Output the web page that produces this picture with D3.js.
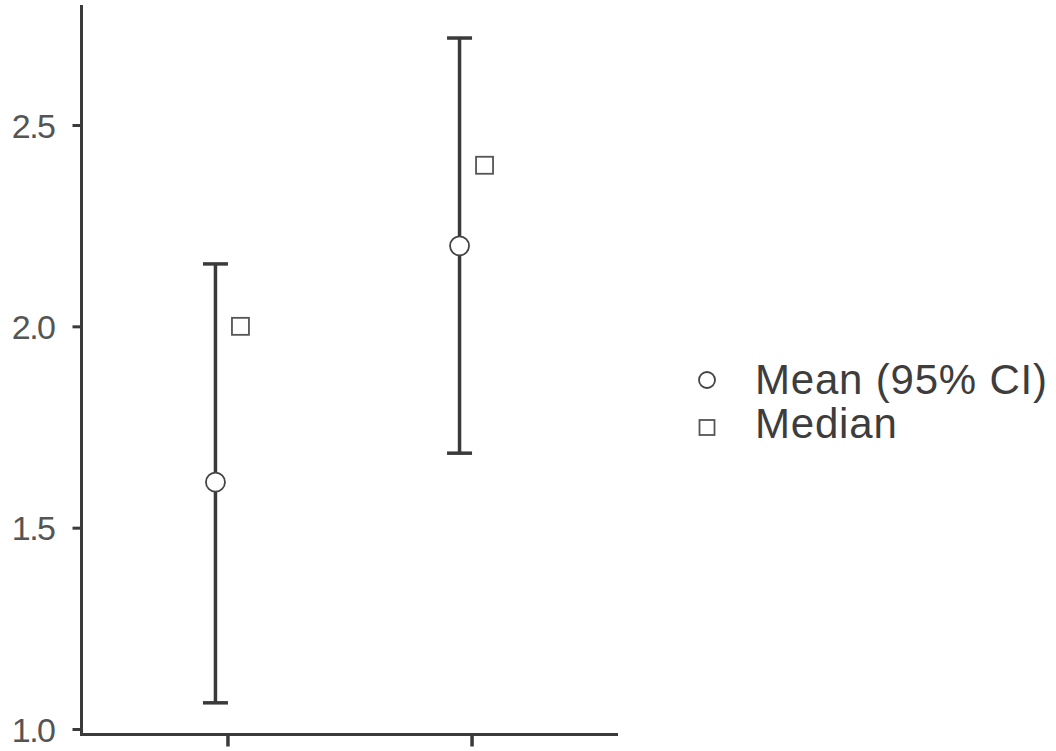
<!DOCTYPE html>
<html>
<head>
<meta charset="utf-8">
<script src="https://cdn.jsdelivr.net/npm/d3@7"></script>
<style>
  html, body { margin: 0; padding: 0; background: #fff; }
  svg { display: block; }
  text { font-family: "Liberation Sans", Arial, sans-serif; }
</style>
</head>
<body>
<svg id="chart" width="1056" height="751"></svg>
<script>
// Groups and their summary statistics
const groups = ["A", "B"];
const means = [1.613, 2.2];
const lowerCI = [1.065, 1.685];
const upperCI = [2.155, 2.716];
const medians = [2.0, 2.4];
const yTicks = [1.0, 1.5, 2.0, 2.5];
const legendLabels = ["Mean (95% CI)", "Median"];

const svg = d3.select("#chart");

const y = d3.scaleLinear().domain([1.0, 2.5]).range([729, 125]);
const x = d3.scalePoint().domain(groups).range([81, 618]).padding(0.6);

const axisColor = "#3a3a3a";
const textColor = "#555";

// y axis
const yAxisG = svg.append("g").attr("transform", "translate(81.5,0)");
yAxisG.call(d3.axisLeft(y).tickValues(yTicks).tickFormat(d3.format(".1f")).tickSize(9).tickPadding(18));
yAxisG.select(".domain").remove();
yAxisG.append("line")
  .attr("x1", 0).attr("x2", 0)
  .attr("y1", 5).attr("y2", 735)
  .attr("stroke", axisColor).attr("stroke-width", 3);
yAxisG.selectAll(".tick line").attr("stroke", axisColor).attr("stroke-width", 3);
yAxisG.selectAll(".tick text")
  .attr("fill", textColor)
  .attr("font-size", 34)
  .attr("letter-spacing", -1.5)
  .attr("dy", "0.36em");

// x axis
const xAxisG = svg.append("g").attr("transform", "translate(0,734.5)");
xAxisG.call(d3.axisBottom(x).tickSize(12).tickFormat(""));
xAxisG.select(".domain").remove();
xAxisG.append("line")
  .attr("x1", 80).attr("x2", 618)
  .attr("y1", 0).attr("y2", 0)
  .attr("stroke", axisColor).attr("stroke-width", 3);
xAxisG.selectAll(".tick line").attr("stroke", axisColor).attr("stroke-width", 3.5);

const meanOffset = -12, medianOffset = 13, capHalf = 12.5;

const g = svg.append("g");
groups.forEach((grp, i) => {
  const cx = x(grp) + meanOffset;
  // error bar stem
  g.append("line")
    .attr("x1", cx).attr("x2", cx)
    .attr("y1", y(lowerCI[i])).attr("y2", y(upperCI[i]))
    .attr("stroke", axisColor).attr("stroke-width", 3.5);
  // caps
  [lowerCI[i], upperCI[i]].forEach(v => {
    g.append("line")
      .attr("x1", cx - capHalf).attr("x2", cx + capHalf)
      .attr("y1", y(v)).attr("y2", y(v))
      .attr("stroke", axisColor).attr("stroke-width", 3.5);
  });
  // mean
  g.append("circle")
    .attr("cx", cx).attr("cy", y(means[i])).attr("r", 9.5)
    .attr("fill", "#fff").attr("stroke", "#444").attr("stroke-width", 1.8);
  // median
  const mx = x(grp) + medianOffset;
  g.append("rect")
    .attr("x", mx - 8.5).attr("y", y(medians[i]) - 8.5)
    .attr("width", 17).attr("height", 17)
    .attr("fill", "#fff").attr("stroke", "#555").attr("stroke-width", 1.8);
});

// legend
const legend = svg.append("g");
legend.append("circle")
  .attr("cx", 707).attr("cy", 380).attr("r", 8)
  .attr("fill", "#fff").attr("stroke", "#444").attr("stroke-width", 1.8);
legend.append("rect")
  .attr("x", 699.5).attr("y", 420).attr("width", 15).attr("height", 15)
  .attr("fill", "#fff").attr("stroke", "#555").attr("stroke-width", 1.8);
legend.selectAll("text.lbl")
  .data(legendLabels)
  .join("text")
  .attr("class", "lbl")
  .attr("x", 755)
  .attr("y", (d, i) => 394 + i * 44)
  .attr("font-size", 42)
  .attr("letter-spacing", 0.8)
  .attr("fill", "#3d3d3d")
  .text(d => d);
</script>
</body>
</html>
